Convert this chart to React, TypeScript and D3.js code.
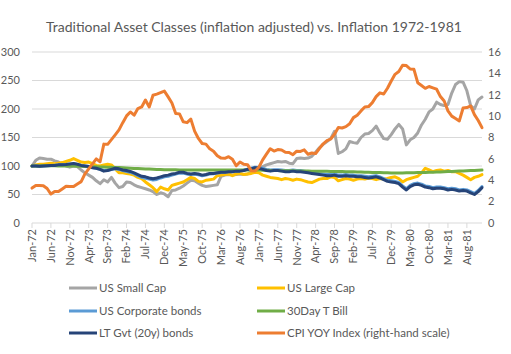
import React from "react";
import * as d3 from "d3";

const MONTHS: string[] = d3
  .timeMonth.range(new Date(1972, 0, 1), new Date(1982, 0, 1))
  .map((d) => d3.timeFormat("%b-%y")(d));

const LEFT_TICKS = [0, 50, 100, 150, 200, 250, 300];
const RIGHT_TICKS = [0, 2, 4, 6, 8, 10, 12, 14, 16];
const TITLE = "Traditional Asset Classes (inflation adjusted) vs. Inflation 1972-1981";

const SMALL_CAP = [
  100, 110, 114, 113, 112, 112, 109, 107, 103, 100, 98, 100,
  99, 93, 88, 84, 80, 74, 69, 76, 72, 80, 70, 62,
  64, 72, 71, 67, 64, 62, 60, 58, 55, 50, 53, 51,
  46, 57, 58, 61, 65, 70, 75, 74, 70, 66, 64, 65,
  66, 67, 82, 84, 85, 84, 85, 86, 85, 86, 90, 94,
  97, 99, 102, 104, 106, 108, 107, 108, 105, 104, 113, 114,
  113, 114, 117, 124, 132, 138, 143, 148, 161, 122, 125, 130,
  143, 141, 140, 150, 156, 157, 162, 170, 158, 148, 147, 155,
  165, 173, 165, 137, 146, 150, 158, 172, 182, 195, 200, 212,
  208, 206, 208, 228, 243, 248, 247, 232, 206, 200, 216, 221,
];

const LARGE_CAP = [
  100, 102, 103, 103, 104, 105, 104, 105, 106, 108, 110, 113,
  110, 107, 106, 107, 104, 101, 100, 102, 103, 102, 95, 88,
  88, 87, 86, 84, 80, 78, 72, 67, 62, 55, 63, 60,
  58, 66, 68, 70, 72, 76, 80, 78, 73, 72, 75, 76,
  77, 83, 84, 85, 86, 83, 86, 87, 85, 86, 87, 89,
  88, 84, 82, 80, 79, 78, 76, 78, 77, 75, 77, 76,
  74, 72, 71, 74, 77, 78, 78, 81, 80, 74, 76, 78,
  77, 75, 77, 78, 77, 79, 78, 76, 78, 77, 78, 80,
  81, 78, 72, 76, 78, 80, 82, 88, 96, 93, 90, 92,
  93, 91, 92, 90, 90, 87, 84, 80, 76, 80, 82, 85,
];

const CORP_BONDS = [
  100, 100, 99.5, 100, 100.5, 101, 101.5, 102, 102, 102.5, 103, 103.5,
  102.5, 101, 100, 99, 97.5, 96, 94, 92, 92.5, 94, 95, 94,
  92, 90.5, 89, 86.5, 83, 80, 78.5, 77, 75.5, 76.5, 79, 81,
  82, 84, 86, 87.5, 87.5, 86, 85, 86, 84.5, 83, 84, 86,
  86.5, 87.5, 88.5, 89, 90, 90.5, 91, 91.5, 92.5, 94.5, 96, 98,
  97.5, 96, 94, 93, 93.5, 93.5, 93, 92, 92, 93, 92, 92,
  91, 90, 89, 88, 87, 86, 85, 85, 86, 84, 84, 85,
  84, 84, 83, 83, 82, 81, 82, 83, 81, 78, 75, 74,
  73, 71, 65, 60, 66, 69, 70, 68, 65, 64, 62, 63,
  63, 62, 60, 61, 60, 58, 59, 58, 55, 52, 57, 64,
];

const TBILL = [
  100, 100, 100.2, 100.3, 100.3, 100.5, 100.3, 100.2, 100.1, 100, 99.9, 99.8,
  99.6, 99.4, 99.1, 98.9, 98.7, 98.5, 98.4, 98.2, 98, 97.8, 97.5, 97.2,
  96.9, 96.5, 96.2, 95.8, 95.5, 95.2, 94.9, 94.6, 94.3, 94, 93.8, 93.6,
  93.5, 93.4, 93.3, 93.2, 93.1, 93, 92.9, 92.9, 92.8, 92.8, 92.8, 92.8,
  92.8, 92.8, 92.8, 92.8, 92.8, 92.8, 92.8, 92.9, 92.9, 93, 93, 93,
  92.9, 92.7, 92.5, 92.3, 92.1, 91.9, 91.8, 91.7, 91.6, 91.5, 91.4, 91.3,
  91.2, 91.1, 91, 90.9, 90.8, 90.7, 90.6, 90.5, 90.4, 90.3, 90.2, 90.1,
  90, 89.8, 89.6, 89.4, 89.2, 89, 88.8, 88.6, 88.4, 88.2, 88, 87.9,
  87.8, 87.8, 87.9, 88, 88.1, 88.2, 88.4, 88.6, 88.8, 89, 89.2, 89.4,
  89.6, 89.9, 90.2, 90.5, 90.8, 91.1, 91.4, 91.7, 92, 92.3, 92.6, 92.9,
];

const LT_GOVT = [
  100, 100, 99.5, 100, 100.5, 101, 101, 102, 102, 102.5, 103.5, 104.5,
  103, 101, 100, 99, 97, 96, 94, 91, 92, 94, 96, 95,
  93, 92, 90.5, 88, 85, 82, 81, 79, 77.5, 79, 81, 83,
  84, 86, 87, 89, 89, 87, 86, 87, 86, 84, 85, 87,
  87, 88, 89, 89, 90, 90, 91, 91, 92, 94, 95, 97,
  96, 94, 92, 91, 92, 92, 91, 90, 90, 91, 90, 90,
  89, 88, 87, 86, 85, 84, 83, 83, 84, 82, 82, 83,
  82, 82, 81, 81, 80, 79, 80, 81, 79, 76, 73, 72,
  71, 69, 63, 58, 64, 67, 68, 66, 63, 62, 60, 61,
  61, 60, 58, 59, 58, 56, 57, 56, 53, 50, 55, 62,
];

const CPI_YOY = [
  3.27, 3.51, 3.5, 3.49, 3.23, 2.71, 2.95, 2.94, 3.19, 3.43, 3.42, 3.41,
  3.65, 3.87, 4.59, 5.06, 5.53, 6.0, 5.73, 7.38, 7.36, 7.8, 8.25, 8.71,
  9.39, 10.02, 10.39, 10.09, 10.71, 10.86, 11.51, 10.86, 11.95, 12.06, 12.2, 12.34,
  11.8, 11.23, 10.25, 10.21, 9.47, 9.39, 9.72, 8.6, 7.91, 7.44, 7.38, 6.94,
  6.72, 6.29, 6.07, 6.05, 6.2, 5.97, 5.35, 5.71, 5.49, 5.46, 4.88, 4.86,
  5.22, 5.91, 6.44, 6.95, 6.73, 6.87, 6.83, 6.62, 6.6, 6.39, 6.72, 6.7,
  6.84, 6.43, 6.55, 6.5, 6.97, 7.41, 7.7, 7.86, 8.31, 8.93, 8.89, 9.02,
  9.28, 9.86, 10.09, 10.49, 10.85, 10.89, 11.26, 11.82, 12.18, 12.07, 12.61, 13.29,
  13.91, 14.18, 14.76, 14.73, 14.41, 14.38, 13.13, 12.87, 12.6, 12.77, 12.65, 12.52,
  11.83, 11.41, 10.49, 10.0, 9.78, 9.55, 10.76, 10.8, 10.95, 10.14, 9.59, 8.92,
];

const SERIES_NAMES = [
  "US Small Cap",
  "US Large Cap",
  "US Corporate bonds",
  "30Day T Bill",
  "LT Gvt (20y) bonds",
  "CPI YOY Index (right-hand scale)",
];
const SERIES_DATA = [SMALL_CAP, LARGE_CAP, CORP_BONDS, TBILL, LT_GOVT, CPI_YOY];
const SERIES_COLORS = ["#A5A5A5", "#FFC000", "#5B9BD5", "#70AD47", "#264478", "#ED7D31"];
const SERIES_RIGHT = [false, false, false, false, false, true];

const W = 511;
const H = 354;
const FONT = "Lato, 'Liberation Sans', sans-serif";
const TEXT = "#595959";

export default function App() {
  const x = d3.scaleLinear().domain([0, MONTHS.length - 1]).range([32, 482]);
  const yL = d3.scaleLinear().domain([0, 300]).range([223, 52]);
  const yR = d3.scaleLinear().domain([0, 16]).range([223, 52]);

  const labelIdx = MONTHS.map((_, i) => i).filter((i) => i % 5 === 0);

  const legendPos = [
    [69, 288], [257, 288],
    [69, 311], [257, 311],
    [69, 333], [257, 333],
  ];

  return (
    <svg
      width={W}
      height={H}
      style={{ position: "absolute", left: 0, top: 0, background: "#fff" }}
      fontFamily={FONT}
    >
      <rect x={0} y={0} width={W} height={H} fill="#fff" />
      <text x={254} y={32} textAnchor="middle" fontSize={14} fill={TEXT}>
        {TITLE}
      </text>
      {LEFT_TICKS.map((t) => (
        <g key={"l" + t}>
          {t > 0 && (
            <line x1={32} x2={482} y1={yL(t)} y2={yL(t)} stroke="#D9D9D9" strokeWidth={1} />
          )}
          <text x={20} y={yL(t)} dy="0.35em" textAnchor="end" fontSize={11} fill={TEXT}>
            {t}
          </text>
        </g>
      ))}
      {RIGHT_TICKS.map((t) => (
        <text key={"r" + t} x={488} y={yR(t)} dy="0.35em" textAnchor="start" fontSize={11} fill={TEXT}>
          {t}
        </text>
      ))}
      <line x1={32} x2={482} y1={223} y2={223} stroke="#D9D9D9" strokeWidth={1} />
      {labelIdx.map((i) => (
        <g key={"x" + i}>
          <line x1={x(i)} x2={x(i)} y1={223} y2={228} stroke="#D9D9D9" strokeWidth={1} />
          <text
            transform={`translate(${x(i)},229) rotate(-90)`}
            dy="0.35em"
            textAnchor="end"
            fontSize={11}
            fill={TEXT}
          >
            {MONTHS[i]}
          </text>
        </g>
      ))}
      {SERIES_DATA.map((data, s) => {
        const yy = SERIES_RIGHT[s] ? yR : yL;
        const path = d3
          .line<number>()
          .x((_, i) => x(i))
          .y((d) => yy(d))(data);
        return (
          <path
            key={"s" + s}
            d={path || ""}
            fill="none"
            stroke={SERIES_COLORS[s]}
            strokeWidth={3}
            strokeLinejoin="round"
            strokeLinecap="round"
          />
        );
      })}
      {SERIES_NAMES.map((name, s) => (
        <g key={"lg" + s}>
          <line
            x1={legendPos[s][0]}
            x2={legendPos[s][0] + 28}
            y1={legendPos[s][1]}
            y2={legendPos[s][1]}
            stroke={SERIES_COLORS[s]}
            strokeWidth={3}
          />
          <text x={legendPos[s][0] + 30} y={legendPos[s][1]} dy="0.35em" fontSize={11.5} fill={TEXT}>
            {name}
          </text>
        </g>
      ))}
    </svg>
  );
}
